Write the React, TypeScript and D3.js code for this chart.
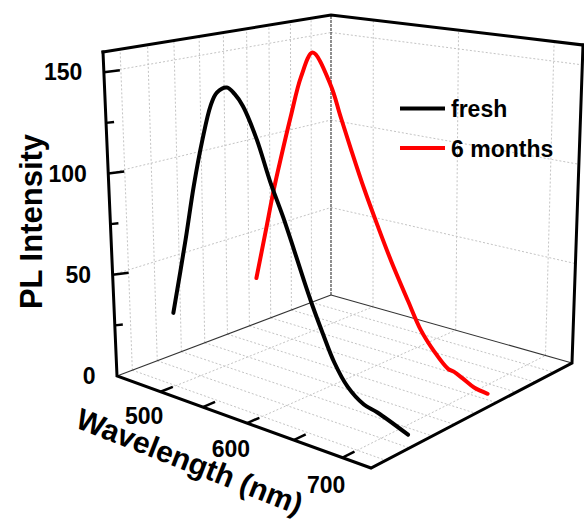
import React from "react";
import * as d3 from "d3";

// PL spectra: wavelength (nm) and intensity for each sample
const freshWavelength = [451, 469, 481, 493, 504, 512, 524, 533, 542, 557, 571, 585, 596, 606, 615, 626, 638, 652, 669, 683, 714];
const freshIntensity = [22.5, 61.7, 90, 114, 132, 139.3, 142.7, 140.1, 135, 120, 101, 85, 71, 58, 47, 35, 23, 13.6, 7.8, 6.2, 0.8];

const agedWavelength = [450, 462, 473.5, 482.4, 495, 508, 522, 543, 554, 566, 581, 596, 611, 630, 644, 658.5, 673.6, 680, 689, 701, 715];
const agedIntensity = [25.4, 51, 76, 93, 116, 138, 151.5, 136, 121, 105, 86, 69, 53, 35, 22.5, 14, 7.5, 6.9, 5, 2.3, 1.3];

const seriesNames = ["fresh", "6 months"];
const seriesColors = ["#000000", "#ff0000"];
const seriesDepth = [1.55, 5.2];

const wavelengthTicks = [500, 550, 600, 650, 700];
const wavelengthLabels = [500, 600, 700];
const intensityTicks = [0, 25, 50, 75, 100, 125, 150];
const intensityLabels = [0, 50, 100, 150];
const depthGrid = [0, 1, 2, 3, 4, 5, 6, 7, 8];

type Pt = [number, number];

// projective map of the unit square onto a screen quadrilateral
function squareToQuad(q: Pt[]) {
  const [[x0, y0], [x1, y1], [x2, y2], [x3, y3]] = q;
  const dx1 = x1 - x2, dx2 = x3 - x2, dx3 = x0 - x1 + x2 - x3;
  const dy1 = y1 - y2, dy2 = y3 - y2, dy3 = y0 - y1 + y2 - y3;
  const den = dx1 * dy2 - dx2 * dy1;
  const g = (dx3 * dy2 - dx2 * dy3) / den;
  const h = (dx1 * dy3 - dx3 * dy1) / den;
  const a = x1 - x0 + g * x1, b = x3 - x0 + h * x3, c = x0;
  const d = y1 - y0 + g * y1, e = y3 - y0 + h * y3, f = y0;
  return (u: number, v: number): Pt => {
    const w = g * u + h * v + 1;
    return [(a * u + b * v + c) / w, (d * u + e * v + f) / w];
  };
}

// box corners: floor (z = 0) and ceiling (z = max)
const floorQuad: Pt[] = [[117, 376], [371, 468], [572, 363], [331, 295]];
const topQuad: Pt[] = [[103, 52], [371, 98], [583, 45], [331, 15]];
const floorMap = squareToQuad(floorQuad);
const topMap = squareToQuad(topQuad);

const xScale = d3.scaleLinear().domain([446, 728]).range([0, 1]);
const dScale = d3.scaleLinear().domain([-0.6, 9]).range([0, 1]);
const zScale = d3.scaleLinear().domain([0, 160]).range([0, 1]);

function project(lambda: number, depth: number, intensity: number): Pt {
  const u = xScale(lambda), v = dScale(depth), t = zScale(intensity);
  const f = floorMap(u, v), k = topMap(u, v);
  return [f[0] + t * (k[0] - f[0]), f[1] + t * (k[1] - f[1])];
}

const [L0, L1] = xScale.domain();
const [D0, D1] = dScale.domain();
const [Z0, Z1] = zScale.domain();

const seg = (p: Pt, q: Pt) => `M${p[0]},${p[1]}L${q[0]},${q[1]}`;

const FONT = "'Liberation Sans', Arial, Helvetica, sans-serif";

export default function App() {
  const gridPaths: string[] = [];
  // floor grid
  depthGrid.forEach((dv) => gridPaths.push(seg(project(L0, dv, Z0), project(L1, dv, Z0))));
  wavelengthLabels.forEach((l) => gridPaths.push(seg(project(l, D0, Z0), project(l, D1, Z0))));
  // left wall grid
  depthGrid.forEach((dv) => gridPaths.push(seg(project(L0, dv, Z0), project(L0, dv, Z1))));
  intensityLabels.filter((z) => z > 0).forEach((z) => gridPaths.push(seg(project(L0, D0, z), project(L0, D1, z))));
  // back wall grid
  wavelengthLabels.forEach((l) => gridPaths.push(seg(project(l, D1, Z0), project(l, D1, Z1))));
  intensityLabels.filter((z) => z > 0).forEach((z) => gridPaths.push(seg(project(L0, D1, z), project(L1, D1, z))));

  const A = project(L0, D0, Z0), B = project(L1, D0, Z0), C = project(L1, D1, Z0), D = project(L0, D1, Z0);
  const At = project(L0, D0, Z1), Ct = project(L1, D1, Z1), Dt = project(L0, D1, Z1);

  const line = d3.line<Pt>().curve(d3.curveCatmullRom.alpha(0.5));
  const series = [
    { xs: agedWavelength, ys: agedIntensity, depth: seriesDepth[1], color: seriesColors[1] },
    { xs: freshWavelength, ys: freshIntensity, depth: seriesDepth[0], color: seriesColors[0] },
  ];

  const tickSpan = (D1 - D0) * 0.05;

  return (
    <svg width={584} height={520} style={{ position: "absolute", left: 0, top: 0, background: "#fff" }}>
      <g fill="none" stroke="#c4c4c4" strokeWidth={1} strokeDasharray="2,2">
        {gridPaths.map((d, i) => <path key={i} d={d} />)}
      </g>
      {/* hidden-corner edges */}
      <g fill="none" stroke="#333" strokeWidth={1.1}>
        <path d={seg(A, D)} />
        <path d={seg(D, C)} />
        <path d={seg(D, Dt)} strokeDasharray="3,1" />
      </g>
      {/* spectra */}
      <g fill="none" strokeWidth={4} strokeLinecap="round" strokeLinejoin="round">
        {series.map((s, i) => (
          <path key={i} stroke={s.color} d={line(s.xs.map((x, j) => project(x, s.depth, s.ys[j]))) || ""} />
        ))}
      </g>
      {/* frame and axes */}
      <g fill="none" stroke="#000" strokeWidth={3} strokeLinejoin="miter" strokeLinecap="square">
        <path d={`M${At[0]},${At[1]}L${Dt[0]},${Dt[1]}L${Ct[0]},${Ct[1]}`} />
        <path d={`M${At[0]},${At[1]}L${A[0]},${A[1]}L${B[0]},${B[1]}L${C[0]},${C[1]}L${Ct[0]},${Ct[1]}`} />
      </g>
      {/* wavelength ticks */}
      <g stroke="#000" strokeWidth={2.5}>
        {wavelengthTicks.map((l) => {
          const p = project(l, D0, Z0), q = project(l, D0 + tickSpan, Z0);
          return <path key={l} d={seg(p, q)} />;
        })}
      </g>
      {/* intensity ticks */}
      <g stroke="#000" strokeWidth={2.5}>
        {intensityTicks.filter((z) => z > 0).map((z) => {
          const p = project(L0, D0, z);
          const len = z % 50 === 0 ? 16 : 8;
          return <path key={z} d={`M${p[0]},${p[1]}l${len},${-0.12 * len}`} />;
        })}
      </g>
      <g fontFamily={FONT} fontWeight="bold" fontSize={23} fill="#000">
        {intensityLabels.map((z) => {
          const p = project(L0, D0, z);
          return <text key={z} x={p[0] - 21.5} y={p[1]} dy="0.35em" textAnchor="end">{z}</text>;
        })}
        {wavelengthLabels.map((l) => {
          const p = project(l, D0 - (D1 - D0) * 0.065, -8.5);
          return <text key={l} x={p[0] - 1} y={p[1]} dy="0.35em" textAnchor="middle">{l}</text>;
        })}
      </g>
      <text fontFamily={FONT} fontWeight="bold" fontSize={31} textAnchor="middle" transform="translate(42,221.5) rotate(-90)">PL Intensity</text>
      <text fontFamily={FONT} fontWeight="bold" fontSize={30} textAnchor="middle" transform="translate(186,471) rotate(21.5)">Wavelength (nm)</text>
      {/* legend */}
      <g fontFamily={FONT} fontWeight="bold" fontSize={23}>
        {seriesNames.map((n, i) => (
          <g key={n} transform={`translate(400,${108.5 + i * 39.5})`}>
            <path d="M0,0H45" stroke={seriesColors[i]} strokeWidth={4} />
            <text x={51} y={8.5}>{n}</text>
          </g>
        ))}
      </g>
    </svg>
  );
}
